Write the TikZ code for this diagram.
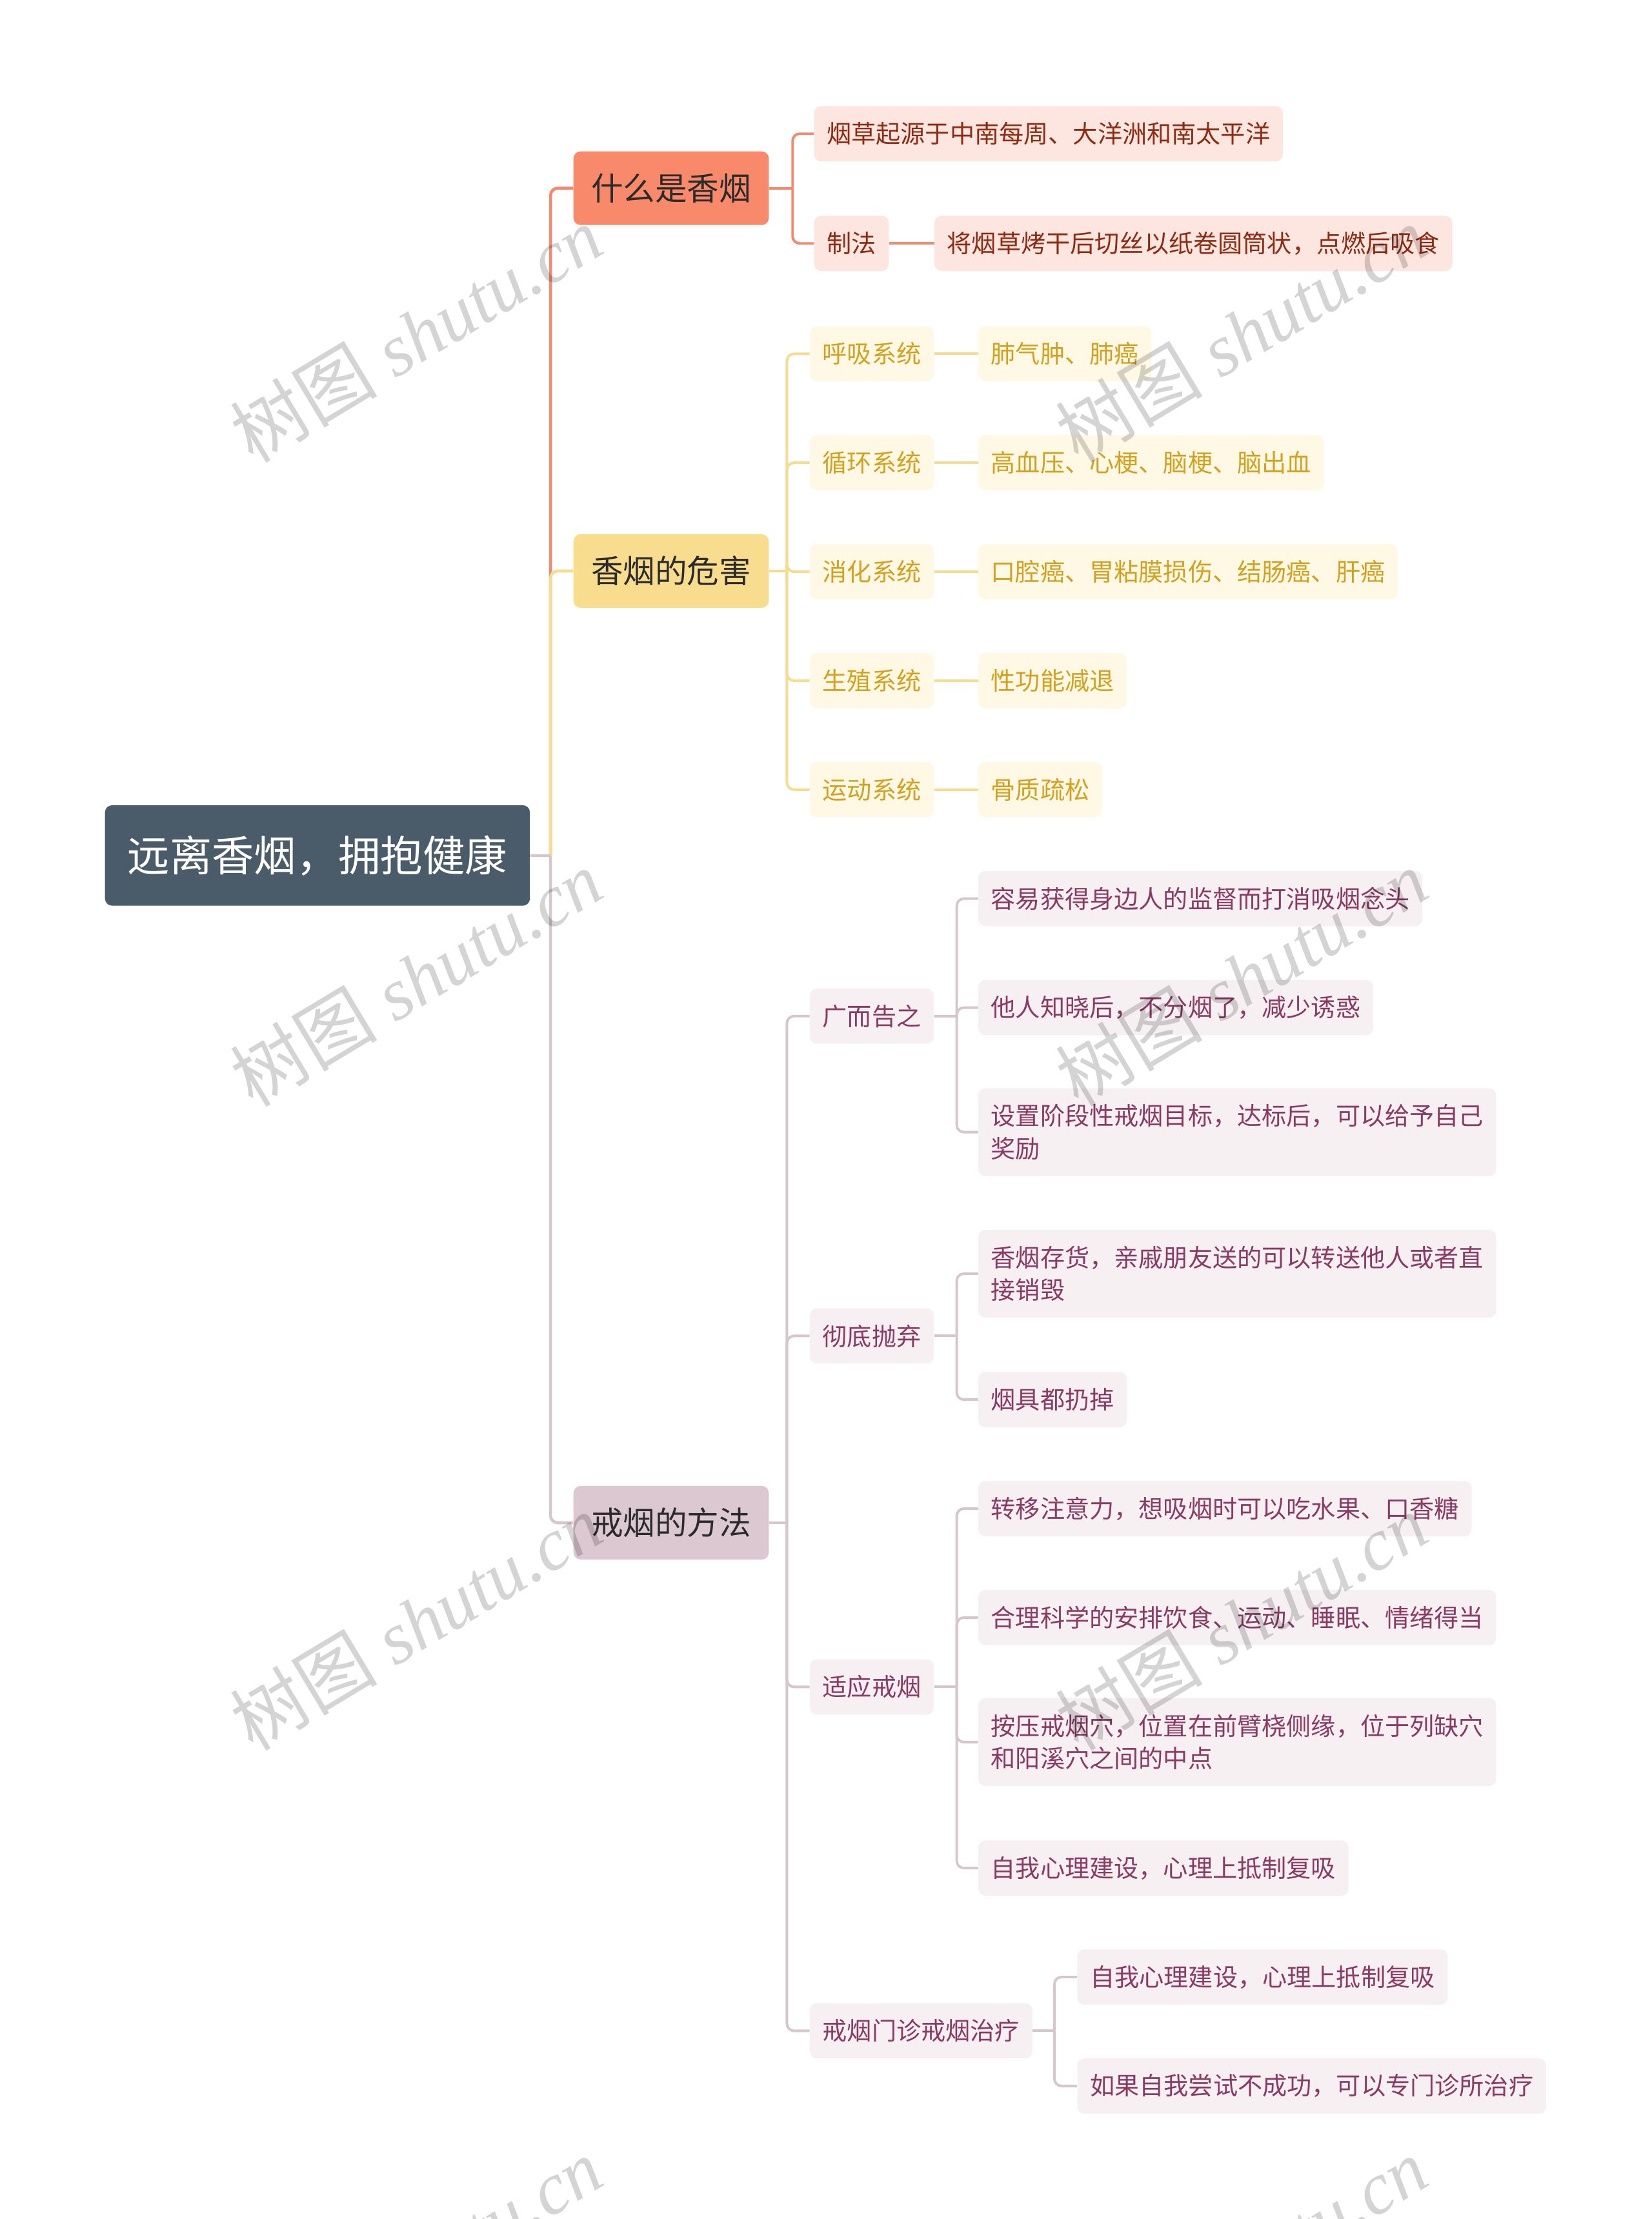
\documentclass[tikz,border=0pt]{standalone}
\usepackage{fontspec}
\newfontfamily\cjk{Noto Sans CJK SC}
\newfontfamily\wmlatin{Liberation Serif}
\usetikzlibrary{backgrounds}
\definecolor{rootc}{HTML}{4A5B6A}
\definecolor{ofill}{HTML}{F88A6B}
\definecolor{oline}{HTML}{F5896B}
\definecolor{osub}{HTML}{FDE6DF}
\definecolor{otext}{HTML}{8F2B13}
\definecolor{yfill}{HTML}{F8DD8E}
\definecolor{yline}{HTML}{F6DC8E}
\definecolor{ysub}{HTML}{FEF8E5}
\definecolor{ytext}{HTML}{D4A11E}
\definecolor{mfill}{HTML}{DCC8D0}
\definecolor{mline}{HTML}{D8C6CD}
\definecolor{msub}{HTML}{F6F0F2}
\definecolor{mtext}{HTML}{8A3A63}
\definecolor{ltext}{HTML}{2B2B2B}
\tikzset{
  box/.style={anchor=west, rounded corners=5pt, inner ysep=0pt},
  rootn/.style={box, fill=rootc, text=white, inner xsep=16pt, minimum height=71pt,
    font=\cjk\fontsize{29.8pt}{34pt}\selectfont},
  lone/.style={box, text=ltext, inner xsep=12.5pt, minimum height=52pt,
    font=\cjk\fontsize{22.6pt}{26pt}\selectfont},
  ltwo/.style={box, inner xsep=9pt, minimum height=39pt, align=left,
    font=\cjk\fontsize{17.4pt}{23pt}\selectfont},
  lonO/.style={lone, fill=ofill},
  lonY/.style={lone, fill=yfill},
  lonM/.style={lone, fill=mfill},
  subO/.style={ltwo, fill=osub, text=otext},
  subY/.style={ltwo, fill=ysub, text=ytext},
  subM/.style={ltwo, fill=msub, text=mtext},
  multi/.style={minimum height=62pt},
  conn/.style={line width=1.8pt, rounded corners=5pt},
  connA/.style={conn, line width=2.1pt},
  wm/.style={rotate=31, text=black, opacity=0.17, font=\wmlatin\itshape\fontsize{52pt}{56pt}\selectfont}
}
\begin{document}
\begin{tikzpicture}[x=1pt,y=-1pt]
\useasboundingbox (0,0) rectangle (1167,1568);

% root
\node[rootn] (root) at (74,604.5) {远离香烟，拥抱健康};

% branch 1
\node[lonO] (A) at (405,133) {什么是香烟};
\node[subO] (A1) at (575,94.5) {烟草起源于中南每周、大洋洲和南太平洋};
\node[subO] (A2) at (575,172) {制法};
\node[subO] (A2a) at (660,172) {将烟草烤干后切丝以纸卷圆筒状，点燃后吸食};

% branch 2
\node[lonY] (B) at (405,403.5) {香烟的危害};
\node[subY] (B1) at (572,250) {呼吸系统};
\node[subY] (B2) at (572,327) {循环系统};
\node[subY] (B3) at (572,404) {消化系统};
\node[subY] (B4) at (572,481) {生殖系统};
\node[subY] (B5) at (572,558) {运动系统};
\node[subY] (B1a) at (691,250) {肺气肿、肺癌};
\node[subY] (B2a) at (691,327) {高血压、心梗、脑梗、脑出血};
\node[subY] (B3a) at (691,404) {口腔癌、胃粘膜损伤、结肠癌、肝癌};
\node[subY] (B4a) at (691,481) {性功能减退};
\node[subY] (B5a) at (691,558) {骨质疏松};

% branch 3
\node[lonM] (C) at (405,1076) {戒烟的方法};
\node[subM] (C1) at (572,718) {广而告之};
\node[subM] (C2) at (572,944) {彻底抛弃};
\node[subM] (C3) at (572,1192) {适应戒烟};
\node[subM] (C4) at (572,1435) {戒烟门诊戒烟治疗};
\node[subM] (C1a) at (691,635) {容易获得身边人的监督而打消吸烟念头};
\node[subM] (C1b) at (691,712) {他人知晓后，不分烟了，减少诱惑};
\node[subM, multi] (C1c) at (691,800) {设置阶段性戒烟目标，达标后，可以给予自己\\奖励};
\node[subM, multi] (C2a) at (691,900) {香烟存货，亲戚朋友送的可以转送他人或者直\\接销毁};
\node[subM] (C2b) at (691,989) {烟具都扔掉};
\node[subM] (C3a) at (691,1066) {转移注意力，想吸烟时可以吃水果、口香糖};
\node[subM] (C3b) at (691,1143) {合理科学的安排饮食、运动、睡眠、情绪得当};
\node[subM, multi] (C3c) at (691,1231) {按压戒烟穴，位置在前臂桡侧缘，位于列缺穴\\和阳溪穴之间的中点};
\node[subM] (C3d) at (691,1320) {自我心理建设，心理上抵制复吸};
\node[subM] (C4a) at (761,1397) {自我心理建设，心理上抵制复吸};
\node[subM] (C4b) at (761,1474) {如果自我尝试不成功，可以专门诊所治疗};

\begin{pgfonlayer}{background}
  \fill[white] (0,0) rectangle (1167,1568);
  \coordinate (rj) at (389,604.5);
  \coordinate (aj) at (560,133);
  \coordinate (bj) at (556,403.5);
  \coordinate (cj) at (556,1076);
  \coordinate (c1j) at (676,718);
  \coordinate (c2j) at (676,944);
  \coordinate (c3j) at (676,1192);
  \coordinate (c4j) at (745,1435);
  % root to main branches
  \draw[connA, oline] (rj) |- (A.west);
  \draw[connA, yline] (rj) |- (B.west);
  \draw[connA, mline] (rj) |- (C.west);
  \draw[connA, mline] (root.east) -- (rj);
  % branch 1
  \draw[conn, oline] (A.east) -- (aj);
  \draw[conn, oline] (aj) |- (A1.west);
  \draw[conn, oline] (aj) |- (A2.west);
  \draw[conn, oline] (A2.east) -- (A2a.west);
  % branch 2
  \draw[conn, yline] (B.east) -- (bj);
  \foreach \n in {B1,B2,B3,B4,B5}{
    \draw[conn, yline] (bj) |- (\n.west);
    \draw[conn, yline] (\n.east) -- (\n a.west);
  }
  % branch 3
  \draw[conn, mline] (C.east) -- (cj);
  \foreach \n in {C1,C2,C3,C4}{
    \draw[conn, mline] (cj) |- (\n.west);
  }
  \draw[conn, mline] (C1.east) -- (c1j);
  \foreach \n in {C1a,C1b,C1c}{\draw[conn, mline] (c1j) |- (\n.west);}
  \draw[conn, mline] (C2.east) -- (c2j);
  \foreach \n in {C2a,C2b}{\draw[conn, mline] (c2j) |- (\n.west);}
  \draw[conn, mline] (C3.east) -- (c3j);
  \foreach \n in {C3a,C3b,C3c,C3d}{\draw[conn, mline] (c3j) |- (\n.west);}
  \draw[conn, mline] (C4.east) -- (c4j);
  \foreach \n in {C4a,C4b}{\draw[conn, mline] (c4j) |- (\n.west);}
\end{pgfonlayer}

% watermarks
\begin{scope}
\clip (0,0) rectangle (1167,1568);
\node[wm] (wm1) at (294,236) {{\cjk 树图} shutu.cn};
\node[wm] (wm2) at (877,236) {{\cjk 树图} shutu.cn};
\node[wm] (wm3) at (294,691) {{\cjk 树图} shutu.cn};
\node[wm] (wm4) at (877,691) {{\cjk 树图} shutu.cn};
\node[wm] (wm5) at (294,1146) {{\cjk 树图} shutu.cn};
\node[wm] (wm6) at (877,1146) {{\cjk 树图} shutu.cn};
\node[wm] (wm7) at (294,1601) {{\cjk 树图} shutu.cn};
\node[wm] (wm8) at (877,1601) {{\cjk 树图} shutu.cn};
\end{scope}
\end{tikzpicture}
\end{document}
